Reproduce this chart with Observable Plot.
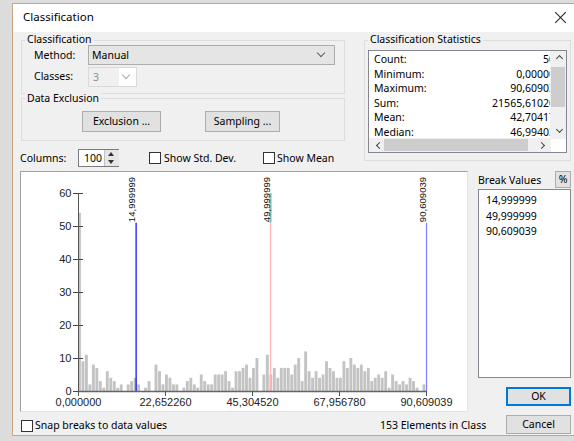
<!DOCTYPE html>
<html>
<head>
<meta charset="utf-8">
<script src="https://cdn.jsdelivr.net/npm/d3@7"></script>
<script src="https://cdn.jsdelivr.net/npm/@observablehq/plot@0.6"></script>
<style>
  html, body { margin: 0; padding: 0; }
  body { width: 574px; height: 441px; overflow: hidden; background: #dcdcdc; position: relative;
         font-family: "Noto Sans", "DejaVu Sans", sans-serif; font-size: 10.5px; color: #000; }
  .abs { position: absolute; }
  #dlg { position: absolute; left: 12px; top: 3px; width: 580px; height: 433px; background: #f0f0f0;
         border: 1px solid #c9a582; box-sizing: border-box; }
  #titlebar { position: absolute; left: 13px; top: 4px; width: 561px; height: 28px; background: #fff; }
  .grp { position: absolute; border: 1px solid #dcdcdc; box-sizing: border-box; }
  .grplabel { position: absolute; background: #f0f0f0; padding: 0 2px; line-height: 13px; white-space: nowrap; }
  .lbl { position: absolute; line-height: 13px; white-space: nowrap; }
  .combo { position: absolute; background: #e5e5e5; border: 1px solid #adadad; box-sizing: border-box; }
  .btn { position: absolute; background: #e1e1e1; border: 1px solid #adadad; box-sizing: border-box;
         text-align: center; white-space: nowrap; }
  .chk { position: absolute; width: 12px; height: 12px; background: #fff; border: 1px solid #333; box-sizing: border-box; }
  .arrow { position: absolute; width: 5px; height: 5px; border-right: 1px solid #606060; border-bottom: 1px solid #606060; transform: rotate(45deg); }
  .xline { position: absolute; width: 15px; height: 1px; background: #222; }
</style>
</head>
<body>
<div id="dlg"></div>
<div id="titlebar"></div>
<div class="lbl" style="left:23px; top:10px; font-size:11.5px;">Classification</div>
<div class="xline" style="left:553px; top:17px; transform:rotate(45deg);"></div>
<div class="xline" style="left:553px; top:17px; transform:rotate(-45deg);"></div>

<!-- Classification group -->
<div class="grp" style="left:21px; top:40px; width:324px; height:54px;"></div>
<div class="grplabel" style="left:25px; top:33px;">Classification</div>
<div class="lbl" style="left:34px; top:49px;">Method:</div>
<div class="combo" style="left:88px; top:45px; width:247px; height:20px;"></div>
<div class="lbl" style="left:92px; top:49px;">Manual</div>
<div class="arrow" style="left:318px; top:50px;"></div>
<div class="lbl" style="left:34px; top:70px;">Classes:</div>
<div class="combo" style="left:88px; top:67px; width:49px; height:20px; background:#fff; border-color:#d9d9d9;"></div>
<div class="abs" style="left:89px; top:68px; width:30px; height:18px; background:#f0f0f0;"></div>
<div class="lbl" style="left:93px; top:71px; color:#8d8d8d;">3</div>
<div class="arrow" style="left:123px; top:72px; border-color:#a8a8a8;"></div>

<!-- Data Exclusion group -->
<div class="grp" style="left:21px; top:98px; width:324px; height:43px;"></div>
<div class="grplabel" style="left:25px; top:92px;">Data Exclusion</div>
<div class="btn" style="left:82px; top:111px; width:79px; height:21px; line-height:19px;">Exclusion ...</div>
<div class="btn" style="left:205px; top:111px; width:75px; height:21px; line-height:19px;">Sampling ...</div>

<!-- Columns row -->
<div class="lbl" style="left:20px; top:152px;">Columns:</div>
<div class="abs" style="left:78px; top:149px; width:41px; height:18px; background:#fff; border:1px solid #7a7a7a; box-sizing:border-box;"></div>
<div class="lbl" style="left:84px; top:152px;">100</div>
<div class="abs" style="left:104px; top:150px; width:14px; height:16px; background:#e6e6e6; border-left:1px solid #c0c0c0;"></div>
<div class="abs" style="left:108px; top:152px; width:0; height:0; border-left:3px solid transparent; border-right:3px solid transparent; border-bottom:4px solid #333;"></div>
<div class="abs" style="left:108px; top:160px; width:0; height:0; border-left:3px solid transparent; border-right:3px solid transparent; border-top:4px solid #333;"></div>
<div class="chk" style="left:149px; top:152px;"></div>
<div class="lbl" style="left:164px; top:152px;">Show Std. Dev.</div>
<div class="chk" style="left:263px; top:152px;"></div>
<div class="lbl" style="left:277px; top:152px;">Show Mean</div>

<!-- Classification Statistics -->
<div class="grp" style="left:364px; top:40px; width:207px; height:121px;"></div>
<div class="grplabel" style="left:368px; top:33px;">Classification Statistics</div>
<div class="abs" style="left:368px; top:50px; width:199px; height:103px; background:#fff; border:1px solid #828790; box-sizing:border-box; overflow:hidden;" id="statbox"></div>

<!-- Histogram panel -->
<div class="abs" style="left:20px; top:171px; width:448px; height:241px; background:#fff; border-top:1px solid #a0a0a0; border-left:1px solid #a0a0a0; border-right:1px solid #e3e3e3; border-bottom:1px solid #e3e3e3; box-sizing:border-box;"></div>
<div id="chart" class="abs" style="left:20px; top:171px;"></div>

<!-- Break values -->
<div class="lbl" style="left:478px; top:174px;">Break Values</div>
<div class="btn" style="left:555px; top:171px; width:16px; height:17px; line-height:15px;">%</div>
<div class="abs" style="left:478px; top:189px; width:93px; height:189px; background:#fff; border:1px solid #828790; box-sizing:border-box;" id="breaklist"></div>

<div class="btn" style="left:506px; top:387px; width:65px; height:19px; line-height:15px; border:2px solid #0078d7;">OK</div>
<div class="btn" style="left:506px; top:415px; width:65px; height:19px; line-height:17px;">Cancel</div>

<div class="chk" style="left:21px; top:420px; border-color:#333;"></div>
<div class="lbl" style="left:35px; top:419px;">Snap breaks to data values</div>
<div class="lbl" style="left:380px; top:419px;" id="elemcount"></div>

<script>
// ---- data ----
const columns = 100;
const dataMin = 0;
const dataMax = 90.609039;
const counts = [
  54, 9, 11, 2, 8, 7, 3, 1, 6, 4,
  3, 1, 2, 0, 2, 3, 4, 2, 0, 1,
  3, 0, 8, 6, 2, 5, 4, 2, 2, 0,
  1, 3, 4, 2, 1, 5, 3, 2, 2, 5,
  5, 5, 6, 3, 1, 6, 6, 7, 8, 4,
  7, 10, 0, 5, 11, 5, 7, 4, 7, 7,
  7, 5, 8, 10, 3, 12, 6, 4, 6, 4,
  5, 9, 7, 6, 4, 4, 9, 7, 10, 8,
  7, 8, 6, 7, 3, 4, 5, 4, 6, 1,
  5, 3, 2, 3, 2, 4, 3, 1, 0, 2
];
const breakValues = [14.999999, 49.999999, 90.609039];
const breakColors = ["#0000ff", "#ffb3b3", "#7f7fff"];
const selectedBreak = 1;
const breakLineTop = 51;
const yMax = 60;
const xTicks = [0, 22.65226, 45.30452, 67.95678, 90.609039];
const yTicks = [0, 10, 20, 30, 40, 50, 60];
const statLabels = ["Count:", "Minimum:", "Maximum:", "Sum:", "Mean:", "Median:"];
const statValues = ["505", "0,000000", "90,609039", "21565,610200", "42,704179", "46,994030"];
const elementsInClass = 153;

// ---- helpers ----
const fmt6 = v => v.toFixed(6).replace(".", ",");
const binW = (dataMax - dataMin) / columns;
const bins = counts.map((c, i) => ({x1: dataMin + i * binW, x2: dataMin + (i + 1) * binW, count: c}));
const breaks = breakValues.map((v, i) => ({value: v, color: breakColors[i], label: fmt6(v)}));

// ---- histogram ----
const chart = Plot.plot({
  width: 448,
  height: 241,
  marginLeft: 58,
  marginRight: 42,
  marginTop: 22,
  marginBottom: 21,
  style: {background: "transparent", fontFamily: "'Liberation Sans', Arial, sans-serif", fontSize: "11px", color: "#222"},
  x: {type: "linear", domain: [dataMin, dataMax], axis: null, label: null},
  y: {type: "linear", domain: [0, yMax], axis: null, label: null},
  marks: [
    Plot.rectY(bins, {x1: "x1", x2: "x2", y: "count", fill: "#c3c3c3", insetRight: 0.6}),
    Plot.ruleX(breaks, {x: "value", y1: 0, y2: breakLineTop, stroke: "color", strokeWidth: 1.2}),
    Plot.ruleX([breaks[selectedBreak]], {x: "value", y1: breakLineTop, y2: yMax, stroke: "#7fbfb8", strokeWidth: 2}),
    Plot.text(breaks, {x: "value", y: breakLineTop, text: "label", rotate: -90, textAnchor: "start",
      lineAnchor: "bottom", dx: -1, dy: -1, fontSize: 9.6, fill: "#111"}),
    // y axis
    Plot.ruleX([dataMin], {y1: 0, y2: yMax, stroke: "#555", strokeWidth: 1}),
    Plot.axisY({ticks: yTicks, tickSize: 5, tickPadding: 2, anchor: "left", stroke: "#444", fill: "#222",
      fontSize: 11, tickFormat: d => String(d), label: null}),
    Plot.axisY({ticks: yTicks, tickSize: 4, anchor: "right", stroke: "#444", text: null, label: null, dx: -348}),
    // x axis
    Plot.ruleY([0], {x1: dataMin, x2: dataMax, stroke: "#666", strokeWidth: 1.5}),
    Plot.axisX({ticks: xTicks, tickSize: 5, tickPadding: 2, anchor: "bottom", stroke: "#555", fill: "#222",
      fontSize: 11, tickFormat: fmt6, label: null})
  ]
});
document.getElementById("chart").appendChild(chart);

// ---- stats list ----
const statbox = document.getElementById("statbox");
statLabels.forEach((l, i) => {
  const top = 2 + i * 14.6;
  const a = document.createElement("div");
  a.className = "lbl"; a.style.left = "5px"; a.style.top = top + "px"; a.textContent = l;
  statbox.appendChild(a);
  const b = document.createElement("div");
  b.className = "lbl"; b.style.right = "5px"; b.style.top = top + "px"; b.style.textAlign = "right"; b.textContent = statValues[i];
  statbox.appendChild(b);
});
// scrollbars
const vs = document.createElement("div");
vs.className = "abs"; vs.style.cssText = "right:0;top:0;width:16px;height:88px;background:#f0f0f0;";
statbox.appendChild(vs);
const thumb = document.createElement("div");
thumb.className = "abs"; thumb.style.cssText = "right:1px;top:16px;width:14px;height:40px;background:#cdcdcd;";
statbox.appendChild(thumb);
const hs = document.createElement("div");
hs.className = "abs"; hs.style.cssText = "left:0;bottom:0;width:182px;height:14px;background:#f0f0f0;";
statbox.appendChild(hs);
const hthumb = document.createElement("div");
hthumb.className = "abs"; hthumb.style.cssText = "left:15px;bottom:1px;width:144px;height:12px;background:#cdcdcd;";
statbox.appendChild(hthumb);
[["right:4px;top:5px;", "rotate(-135deg)"], ["right:4px;top:76px;", "rotate(45deg)"],
 ["left:8px;bottom:4px;", "rotate(135deg)"], ["left:170px;bottom:4px;", "rotate(-45deg)"]].forEach(([pos, r]) => {
  const ar = document.createElement("div");
  ar.className = "arrow"; ar.style.cssText = pos + "width:4px;height:4px;transform:" + r + ";border-color:#444;";
  statbox.appendChild(ar);
});

// ---- break list ----
const bl = document.getElementById("breaklist");
breaks.forEach((b, i) => {
  const d = document.createElement("div");
  d.className = "lbl"; d.style.left = "7px"; d.style.top = (4 + i * 15.5) + "px"; d.textContent = b.label;
  bl.appendChild(d);
});
document.getElementById("elemcount").textContent = elementsInClass + " Elements in Class";
</script>
</body>
</html>
